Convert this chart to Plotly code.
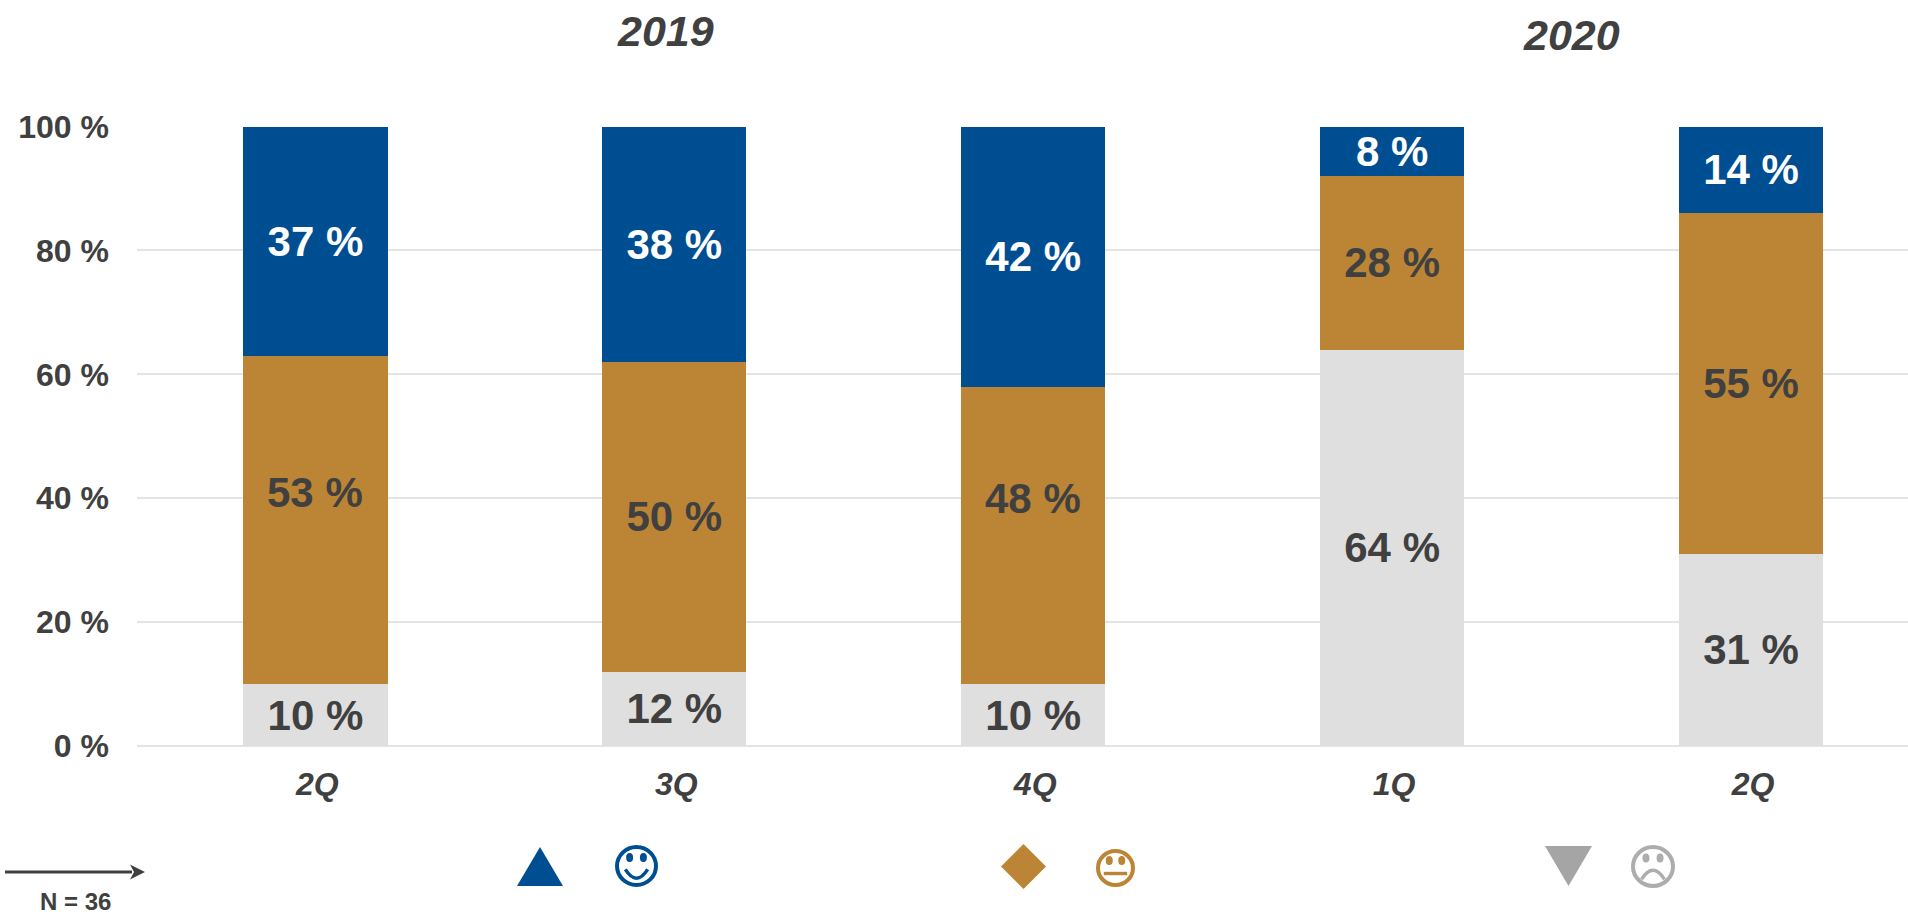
import plotly.graph_objects as go

quarters = ["2Q", "3Q", "4Q", "1Q", "2Q"]
low_values = [10, 12, 10, 64, 31]
mid_values = [53, 50, 48, 28, 55]
high_values = [37, 38, 42, 8, 14]
mid_label_heights = {0: 41, 2: 40}
y_ticks = [0, 20, 40, 60, 80, 100]
year_labels = ["2019", "2020"]

W, H = 1908, 917
BLUE, GOLD, LIGHT = "#004E92", "#BC8536", "#DFDFDF"
TEXT = "#404040"
FONT = "Liberation Sans, Arial, sans-serif"
X_LEFT, Y_TOP, Y_BOTTOM = 137, 126.5, 746
CENTER0, STEP = 315.4, 358.9


def px(x):
    return x / W


def py(y):
    return 1 - y / H


positions = list(range(len(quarters)))
fig = go.Figure()
for values, color, font_color, skip in [
    (low_values, LIGHT, TEXT, {}),
    (mid_values, GOLD, TEXT, mid_label_heights),
    (high_values, BLUE, "white", {}),
]:
    fig.add_bar(
        x=positions, y=values, width=0.402, marker=dict(color=color, line_width=0),
        text=["" if i in skip else f"{v} %" for i, v in enumerate(values)], textposition="inside",
        insidetextanchor="middle", textangle=0, constraintext="none",
        textfont=dict(family=FONT, size=42, color=font_color, weight="bold"),
        hoverinfo="skip", showlegend=False,
    )

shapes = []


def poly(points, color):
    d = "M" + " L".join(f"{px(x)},{py(y)}" for x, y in points) + " Z"
    shapes.append(dict(type="path", xref="paper", yref="paper", path=d,
                       fillcolor=color, line_width=0))


def ellipse(x0, y0, x1, y1, fill=None, line=None, lw=0):
    shapes.append(dict(type="circle", xref="paper", yref="paper",
                       x0=px(x0), x1=px(x1), y0=py(y1), y1=py(y0),
                       fillcolor=fill or "rgba(0,0,0,0)",
                       line=dict(color=line or "rgba(0,0,0,0)", width=lw)))


def curve(p0, c, p1, color, lw):
    d = f"M{px(p0[0])},{py(p0[1])} Q{px(c[0])},{py(c[1])} {px(p1[0])},{py(p1[1])}"
    shapes.append(dict(type="path", xref="paper", yref="paper", path=d,
                       line=dict(color=color, width=lw)))


def face(x0, y0, x1, y1, color, kind):
    cx, cy = (x0 + x1) / 2, (y0 + y1) / 2
    w, h = x1 - x0, y1 - y0
    ellipse(x0 + 2, y0 + 2, x1 - 2, y1 - 2, line=color, lw=4)
    for s in (-1, 1):
        ellipse(cx + s * w * .16 - 3.5, cy - h * .2 - 4.5, cx + s * w * .16 + 3.5, cy - h * .2 + 4.5, fill=color)
    if kind == "smile":
        curve((cx - w * .26, cy + h * .08), (cx, cy + h * .5), (cx + w * .26, cy + h * .08), color, 3.5)
    elif kind == "frown":
        curve((cx - w * .26, cy + h * .3), (cx, cy - h * .12), (cx + w * .26, cy + h * .3), color, 3.5)
    else:
        poly([(cx - w * .3, cy + h * .1), (cx + w * .3, cy + h * .1),
              (cx + w * .3, cy + h * .19), (cx - w * .3, cy + h * .19)], color)


poly([(517, 886), (540, 847), (563, 886)], BLUE)
face(615, 845, 658, 887, BLUE, "smile")
poly([(1001, 866.5), (1023.5, 844), (1046, 866.5), (1023.5, 889)], GOLD)
face(1096, 849, 1135, 887, GOLD, "neutral")
poly([(1545, 846), (1592, 846), (1568.5, 886)], "#A5A5A5")
face(1631, 845, 1675, 888, "#ADADAD", "frown")
# arrow
poly([(5, 870.5), (132, 870.5), (132, 873.5), (5, 873.5)], TEXT)
poly([(130, 864.5), (145, 872), (130, 879.5), (134, 872)], TEXT)

annotations = [
    dict(text=year_labels[0], x=px(665), y=py(31)),
    dict(text=year_labels[1], x=px(1571), y=py(35)),
]
annotations = [dict(a, xref="paper", yref="paper", showarrow=False, xanchor="center", yanchor="middle",
                    font=dict(family=FONT, size=43, color=TEXT, weight="bold", style="italic"))
               for a in annotations]
annotations.append(dict(text="N = 36", x=px(75), y=py(901), xref="paper", yref="paper",
                        showarrow=False, xanchor="center", yanchor="middle",
                        font=dict(family=FONT, size=24, color=TEXT, weight="bold")))
for i, h in mid_label_heights.items():
    annotations.append(dict(text=f"{mid_values[i]} %", x=i, y=h, xref="x", yref="y",
                            showarrow=False, xanchor="center", yanchor="middle",
                            font=dict(family=FONT, size=42, color=TEXT, weight="bold")))

fig.update_layout(
    width=W, height=H, barmode="stack", paper_bgcolor="white", plot_bgcolor="white",
    margin=dict(l=0, r=0, t=0, b=0), shapes=shapes, annotations=annotations,
    xaxis=dict(domain=[px(X_LEFT), 1], automargin=False,
               range=[(X_LEFT - CENTER0) / STEP, (W - CENTER0) / STEP],
               tickmode="array", tickvals=positions, ticktext=quarters,
               ticks="", showgrid=False, zeroline=False, showline=False,
               ticklabelstandoff=16, ticklabelshift=2,
               tickfont=dict(family=FONT, size=32, color=TEXT, weight="bold", style="italic")),
    yaxis=dict(domain=[py(Y_BOTTOM), py(Y_TOP)], range=[0, 100], automargin=False,
               tickmode="array", tickvals=y_ticks, ticktext=[f"{v} %" for v in y_ticks],
               ticks="", showgrid=True, gridcolor="#E4E4E4", gridwidth=2,
               zeroline=True, zerolinecolor="#E4E4E4", zerolinewidth=2, showline=False,
               ticklabelstandoff=27,
               tickfont=dict(family=FONT, size=32, color=TEXT, weight="bold")),
)
fig.write_html("out.html", config={"displayModeBar": False},
               post_script="document.body.style.margin='0';document.body.style.overflow='hidden';")
